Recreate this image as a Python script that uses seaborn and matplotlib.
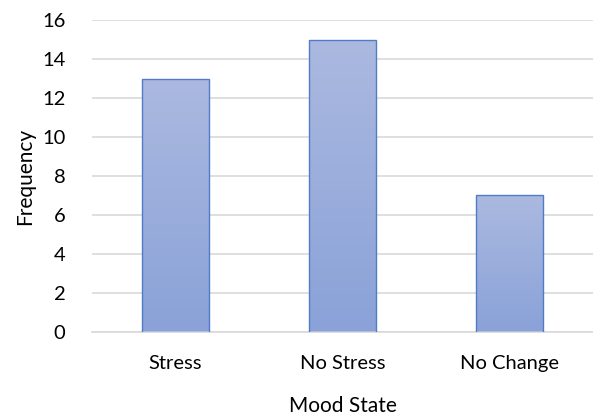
import numpy as np
import pandas as pd
import matplotlib
matplotlib.use("Agg")
import matplotlib.pyplot as plt
from matplotlib.colors import LinearSegmentedColormap
import seaborn as sns

# Frequency of each mood state
mood_states = ["Stress", "No Stress", "No Change"]
frequencies = [13, 15, 7]
y_ticks = [0, 2, 4, 6, 8, 10, 12, 14, 16]

df = pd.DataFrame({"Mood State": mood_states, "Frequency": frequencies})

sns.set_theme(style="white")
plt.rcParams["font.family"] = ["Lato", "DejaVu Sans"]

fig = plt.figure(figsize=(5.93, 4.2), dpi=100)
ax = fig.add_axes([0.155, 0.21, 0.845, 0.742])

sns.barplot(data=df, x="Mood State", y="Frequency", ax=ax, width=0.4,
            color="#9aadde", edgecolor="#4f7bc8", linewidth=1.0, zorder=3)

# vertical gradient fill inside each bar
grad = LinearSegmentedColormap.from_list("bar_grad", ["#8aa2d8", "#abb9e0"])
gradient = np.linspace(0, 1, 256).reshape(-1, 1)
ax.set_ylim(0, 16)
ax.set_xlim(-0.5, 2.5)
for patch in ax.patches:
    x0, y0 = patch.get_x(), patch.get_y()
    w, h = patch.get_width(), patch.get_height()
    patch.set_facecolor("none")
    im = ax.imshow(gradient, cmap=grad, origin="lower", aspect="auto",
                   extent=[x0, x0 + w, y0, y0 + h], zorder=2.5)
    im.set_clip_path(patch)
ax.set_aspect("auto")
ax.set_ylim(0, 16)
ax.set_xlim(-0.5, 2.5)

ax.set_yticks(y_ticks)
ax.yaxis.grid(True, color="#d9d9d9", linewidth=1.2, zorder=0)
ax.set_axisbelow(True)
for side in ["top", "right", "left"]:
    ax.spines[side].set_visible(False)
ax.spines["bottom"].set_color("#d9d9d9")
ax.spines["bottom"].set_linewidth(1.2)

ax.tick_params(axis="y", labelsize=14.5, colors="#000000", length=0, pad=19)
ax.tick_params(axis="x", labelsize=14.5, colors="#000000", length=0, pad=17)
ax.set_xlabel("Mood State", fontsize=15, labelpad=17, color="#000000")
ax.set_ylabel("Frequency", fontsize=15, labelpad=5, color="#000000")

fig.savefig("out.png", dpi=100)
